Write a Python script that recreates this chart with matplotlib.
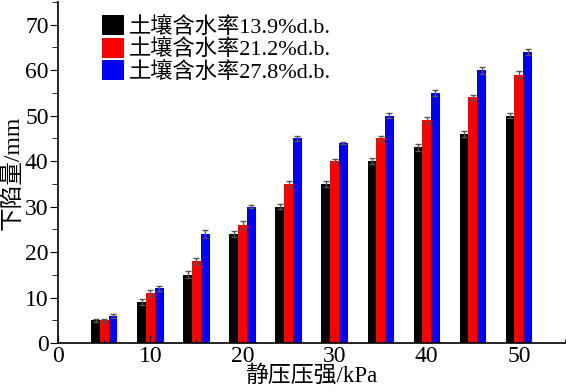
import matplotlib
matplotlib.use("Agg")
import matplotlib.pyplot as plt
import numpy as np
from matplotlib.ticker import MultipleLocator

plt.rcParams['font.family'] = ['Liberation Serif', 'Noto Sans CJK SC']
plt.rcParams['axes.unicode_minus'] = False

pressure = [5, 10, 15, 20, 25, 30, 35, 40, 45, 50]
labels = ['土壤含水率13.9%d.b.', '土壤含水率21.2%d.b.', '土壤含水率27.8%d.b.']
s1 = [5, 9, 15, 24, 30, 35, 40, 43, 46, 50]
s2 = [5, 11, 18, 26, 35, 40, 45, 49, 54, 59]
s3 = [6, 12, 24, 30, 45, 44, 50, 55, 60, 64]
e1 = [0.3, 0.6, 0.8, 0.7, 0.6, 0.6, 0.7, 0.7, 0.6, 0.6]
e2 = [0.3, 0.6, 0.6, 0.9, 0.7, 0.5, 0.6, 0.7, 0.6, 0.8]
e3 = [0.4, 0.6, 0.8, 0.3, 0.6, 0.3, 0.6, 0.6, 0.8, 0.6]
colors = ['#000000', '#ff0000', '#0000ff']

fig = plt.figure(figsize=(5.66, 3.92), dpi=100)
ax = fig.add_axes([0.103, 0.125, 0.895, 0.87])

x = np.array(pressure, dtype=float)
w = 0.95
for i, (vals, errs, c, lab) in enumerate(zip([s1, s2, s3], [e1, e2, e3], colors, labels)):
    ax.bar(x + (i - 1) * w, vals, width=w, color=c, label=lab,
           yerr=errs, error_kw=dict(ecolor='#555555', elinewidth=1, capsize=2.5, capthick=1))

ax.set_xlim(0, 55)
ax.set_ylim(0, 75)
ax.xaxis.set_major_locator(MultipleLocator(10))
ax.xaxis.set_minor_locator(MultipleLocator(5))
ax.yaxis.set_major_locator(MultipleLocator(10))
ax.yaxis.set_minor_locator(MultipleLocator(5))
ax.spines['top'].set_visible(False)
ax.spines['right'].set_visible(False)
ax.spines['left'].set_linewidth(1.2)
ax.spines['bottom'].set_linewidth(1.2)
ax.tick_params(axis='x', which='both', direction='in', labelsize=17, pad=2)
ax.tick_params(axis='x', which='major', length=6)
ax.tick_params(axis='x', which='minor', length=3)
ax.tick_params(axis='y', which='both', direction='out', labelsize=17, pad=1)
ax.tick_params(axis='y', which='major', length=6)
ax.tick_params(axis='y', which='minor', length=4)

ax.set_xlabel('静压压强/kPa', fontsize=16.5, labelpad=-1)
ax.set_ylabel('下陷量/mm', fontsize=17, labelpad=1)

ax.legend(loc='upper left', bbox_to_anchor=(0.06, 1.0), frameon=False, fontsize=16,
          handlelength=1.0, handleheight=1.0, handletextpad=0.2, labelspacing=0.0,
          borderaxespad=0.2)

fig.savefig('out.png', dpi=100)
